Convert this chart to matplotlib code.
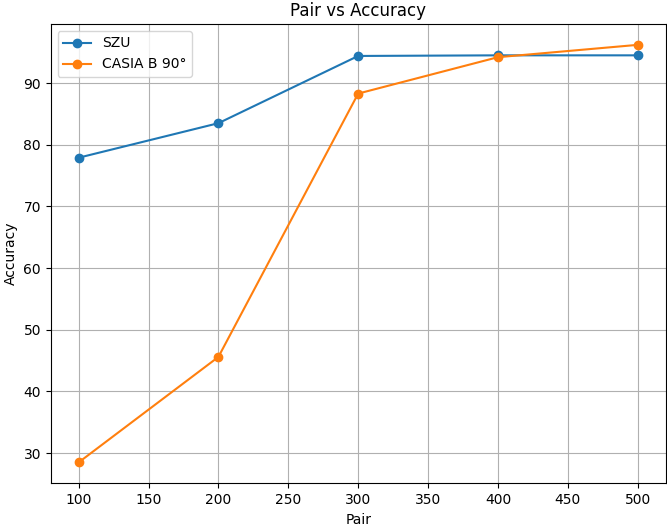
import matplotlib
matplotlib.use('Agg')
import matplotlib.pyplot as plt

# Data
pairs = [100, 200, 300, 400, 500]
szu_acc = [77.9, 83.5, 94.4, 94.5, 94.5]
casia_acc = [28.5, 45.6, 88.3, 94.2, 96.2]

fig, ax = plt.subplots(figsize=(6.67, 5.27), dpi=100)
fig.subplots_adjust(left=0.076, right=0.998, top=0.9545, bottom=0.083)

ax.plot(pairs, szu_acc, marker='o', label='SZU')
ax.plot(pairs, casia_acc, marker='o', label='CASIA B 90°')

ax.set_title('Pair vs Accuracy')
ax.set_xlabel('Pair')
ax.set_ylabel('Accuracy')
ax.legend(loc='upper left')
ax.grid(True)

plt.savefig('out.png', dpi=100)
